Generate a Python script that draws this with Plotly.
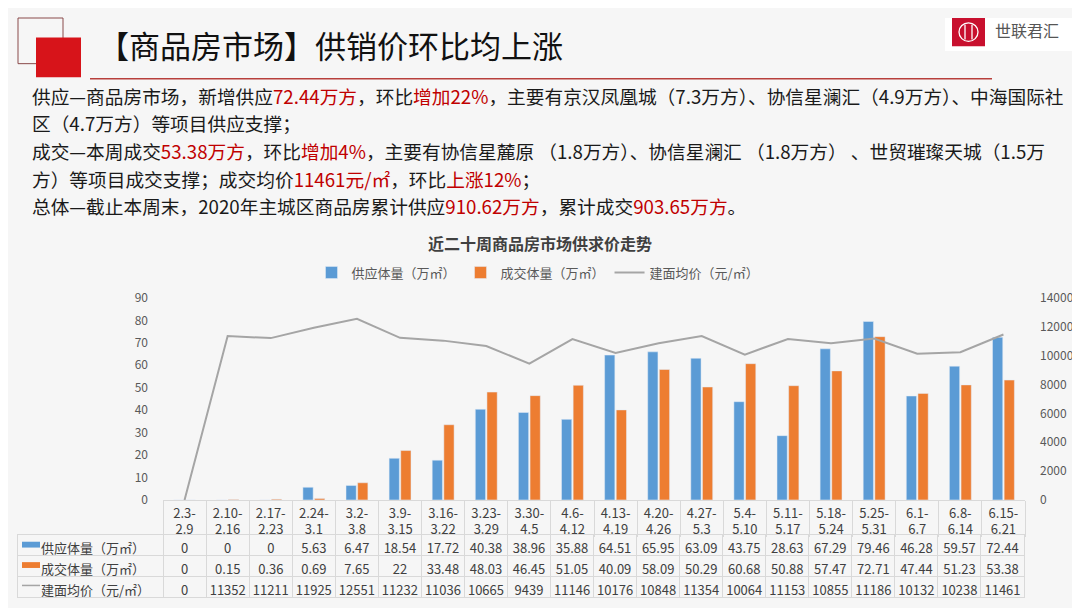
import plotly.graph_objects as go

# ---------------- data ----------------
categories = ["2.3-2.9", "2.10-2.16", "2.17-2.23", "2.24-3.1", "3.2-3.8", "3.9-3.15",
              "3.16-3.22", "3.23-3.29", "3.30-4.5", "4.6-4.12", "4.13-4.19", "4.20-4.26",
              "4.27-5.3", "5.4-5.10", "5.11-5.17", "5.18-5.24", "5.25-5.31", "6.1-6.7",
              "6.8-6.14", "6.15-6.21"]
supply = [0, 0, 0, 5.63, 6.47, 18.54, 17.72, 40.38, 38.96, 35.88, 64.51, 65.95,
          63.09, 43.75, 28.63, 67.29, 79.46, 46.28, 59.57, 72.44]
sales = [0, 0.15, 0.36, 0.69, 7.65, 22, 33.48, 48.03, 46.45, 51.05, 40.09, 58.09,
         50.29, 60.68, 50.88, 57.47, 72.71, 47.44, 51.23, 53.38]
price = [0, 11352, 11211, 11925, 12551, 11232, 11036, 10665, 9439, 11146, 10176, 10848,
         11354, 10064, 11153, 10855, 11186, 10132, 10238, 11461]
series_names = ["供应体量（万㎡）", "成交体量（万㎡）", "建面均价（元/㎡）"]
left_ticks = [0, 10, 20, 30, 40, 50, 60, 70, 80, 90]
right_ticks = [0, 2000, 4000, 6000, 8000, 10000, 12000, 14000]

title_text = "【商品房市场】供销价环比均上涨"
chart_title = "近二十周商品房市场供求价走势"
brand = "世联君汇"
RED = "#c00000"
def r(s):
    return f'<span style="color:{RED}">{s}</span>'
para_lines = [
    "供应—商品房市场，新增供应" + r("72.44万方") + "，环比" + r("增加22%") + "，主要有京汉凤凰城（7.3万方）、协信星澜汇（4.9万方）、中海国际社",
    "区（4.7万方）等项目供应支撑；",
    "成交—本周成交" + r("53.38万方") + "，环比" + r("增加4%") + "，主要有协信星麓原 （1.8万方）、协信星澜汇 （1.8万方） 、世贸璀璨天城（1.5万",
    "方）等项目成交支撑；成交均价" + r("11461元/㎡") + "，环比" + r("上涨12%") + "；",
    "总体—截止本周末，2020年主城区商品房累计供应" + r("910.62万方") + "，累计成交" + r("903.65万方") + "。",
]

# ---------------- layout helpers ----------------
# page body has an 8px default margin; the figure is sized/offset to compensate
OFF = 8
W, H = 1080 - OFF, 608 - OFF
def px(x):
    return (x - OFF) / W
def py(y):
    return 1 - (y - OFF) / H

FONT = "Noto Sans CJK SC"
BLUE = "#5b9bd5"
ORANGE = "#ed7d31"
GRAY = "#a5a5a5"
GRID = "#d9d9d9"
TXT = "#404040"

fig = go.Figure()
fig.add_trace(go.Bar(x=categories, y=supply, name=series_names[0], marker_color=BLUE))
fig.add_trace(go.Bar(x=categories, y=sales, name=series_names[1], marker_color=ORANGE))
fig.add_trace(go.Scatter(x=categories, y=price, name=series_names[2], mode="lines",
                         line=dict(color=GRAY, width=2), yaxis="y2"))

def fmt(v):
    return f"{v:g}"

tick_labels = [c.replace("-", "-<br>") for c in categories]
row_labels = ["\u3000 " + n for n in series_names]
rows = [[row_labels[0]] + [fmt(v) for v in supply],
        [row_labels[1]] + [fmt(v) for v in sales],
        [row_labels[2]] + [fmt(v) for v in price]]
ncol = len(categories) + 1
aligns = ["left"] + ["center"] * len(categories)
cell_font = dict(family=FONT, size=13, color=TXT)

# first data row is used as the table "header" so no empty header row appears
fig.add_trace(go.Table(
    domain=dict(x=[px(17), px(1025)], y=[0, py(540)]),
    columnwidth=[146] + [43] * len(categories),
    header=dict(values=rows[0], height=21, align=aligns,
                fill=dict(color="rgba(0,0,0,0)"),
                line=dict(color=GRID, width=1), font=cell_font),
    cells=dict(values=[[rows[1][c], rows[2][c]] for c in range(ncol)], height=21,
               align=aligns, fill=dict(color="rgba(0,0,0,0)"),
               line=dict(color=GRID, width=1), font=cell_font),
))

shapes = [
    # title decoration
    dict(type="rect", xref="paper", yref="paper", x0=px(18), x1=px(63), y0=py(55), y1=py(8),
         line=dict(color="#8a4a4a", width=1), fillcolor="rgba(0,0,0,0)"),
    dict(type="rect", xref="paper", yref="paper", x0=px(36), x1=px(81), y0=py(69), y1=py(28),
         line=dict(width=0), fillcolor="#d7141a"),
    dict(type="line", xref="paper", yref="paper", x0=px(90), x1=px(992), y0=py(70.5), y1=py(70.5),
         line=dict(color="#b8403c", width=1.6)),
    # logo
    dict(type="rect", xref="paper", yref="paper", x0=px(945), x1=px(1078), y0=py(42), y1=py(8),
         line=dict(width=0), fillcolor="#ffffff"),
    dict(type="rect", xref="paper", yref="paper", x0=px(952), x1=px(985), y0=py(37), y1=py(8),
         line=dict(width=0), fillcolor="#c8102e"),
    dict(type="circle", xref="paper", yref="paper", x0=px(959), x1=px(978), y0=py(32), y1=py(13),
         line=dict(color="#ffffff", width=1.3)),
    dict(type="line", xref="paper", yref="paper", x0=px(965), x1=px(965), y0=py(30), y1=py(15),
         line=dict(color="#ffffff", width=1.3)),
    dict(type="line", xref="paper", yref="paper", x0=px(972), x1=px(972), y0=py(30), y1=py(15),
         line=dict(color="#ffffff", width=1.3)),
    # table row swatches
    dict(type="rect", xref="paper", yref="paper", x0=px(22), x1=px(40), y0=py(553), y1=py(547),
         line=dict(width=0), fillcolor=BLUE),
    dict(type="rect", xref="paper", yref="paper", x0=px(22), x1=px(40), y0=py(574), y1=py(568),
         line=dict(width=0), fillcolor=ORANGE),
    dict(type="line", xref="paper", yref="paper", x0=px(22), x1=px(40), y0=py(592), y1=py(592),
         line=dict(color=GRAY, width=1.5)),
]

annotations = [
    dict(text=title_text, x=px(96), y=py(35), xref="paper", yref="paper", xanchor="left",
         yanchor="middle", showarrow=False, font=dict(family=FONT, size=31, color="#111111")),
    dict(text=brand, x=px(993), y=py(20), xref="paper", yref="paper", xanchor="left",
         yanchor="middle", showarrow=False, font=dict(family=FONT, size=16, color="#555555")),
    dict(text="<b>" + chart_title + "</b>", x=px(540), y=py(240), xref="paper", yref="paper",
         xanchor="center", yanchor="middle", showarrow=False,
         font=dict(family=FONT, size=16, color=TXT)),
]
line_y = [88, 116, 144, 173, 201]
for t, yy in zip(para_lines, line_y):
    annotations.append(dict(text=t, x=px(30), y=py(yy), xref="paper", yref="paper",
                            xanchor="left", yanchor="middle", showarrow=False,
                            font=dict(family=FONT, size=18.7, color="#1a1a1a")))

fig.update_layout(
    width=W, height=H, autosize=False,
    margin=dict(l=0, r=0, t=0, b=0),
    paper_bgcolor="#f6f6f6", plot_bgcolor="rgba(0,0,0,0)",
    font=dict(family=FONT, color="#595959"),
    barmode="group", bargap=0.46, bargroupgap=0.12,
    showlegend=True,
    legend=dict(orientation="h", x=px(538), xanchor="center", y=py(270), yanchor="middle",
                font=dict(family=FONT, size=13, color="#595959"), bgcolor="rgba(0,0,0,0)",
                itemwidth=30, traceorder="normal"),
    xaxis=dict(domain=[px(163), px(1025)], type="category", range=[-0.5, len(categories) - 0.5],
               tickvals=categories, ticktext=tick_labels, tickson="boundaries",
               ticks="outside", ticklen=36, tickcolor=GRID, tickwidth=1,
               ticklabelstandoff=1,
               tickfont=dict(family=FONT, size=13, color=TXT),
               showline=True, linecolor=GRID, linewidth=1,
               showgrid=False, zeroline=False),
    yaxis=dict(domain=[py(504), py(296)], range=[0, 90], tickvals=left_ticks, showgrid=False,
               zeroline=False, ticks="", showline=False, ticklabelstandoff=14,
               tickfont=dict(family=FONT, size=12, color="#595959")),
    yaxis2=dict(overlaying="y", side="right", range=[0, 14000], tickvals=right_ticks,
                tickformat="d", showgrid=False, zeroline=False, ticks="", showline=False,
                ticklabelstandoff=14,
                tickfont=dict(family=FONT, size=12, color="#595959")),
    shapes=shapes, annotations=annotations,
)

fig.write_html("out.html")
